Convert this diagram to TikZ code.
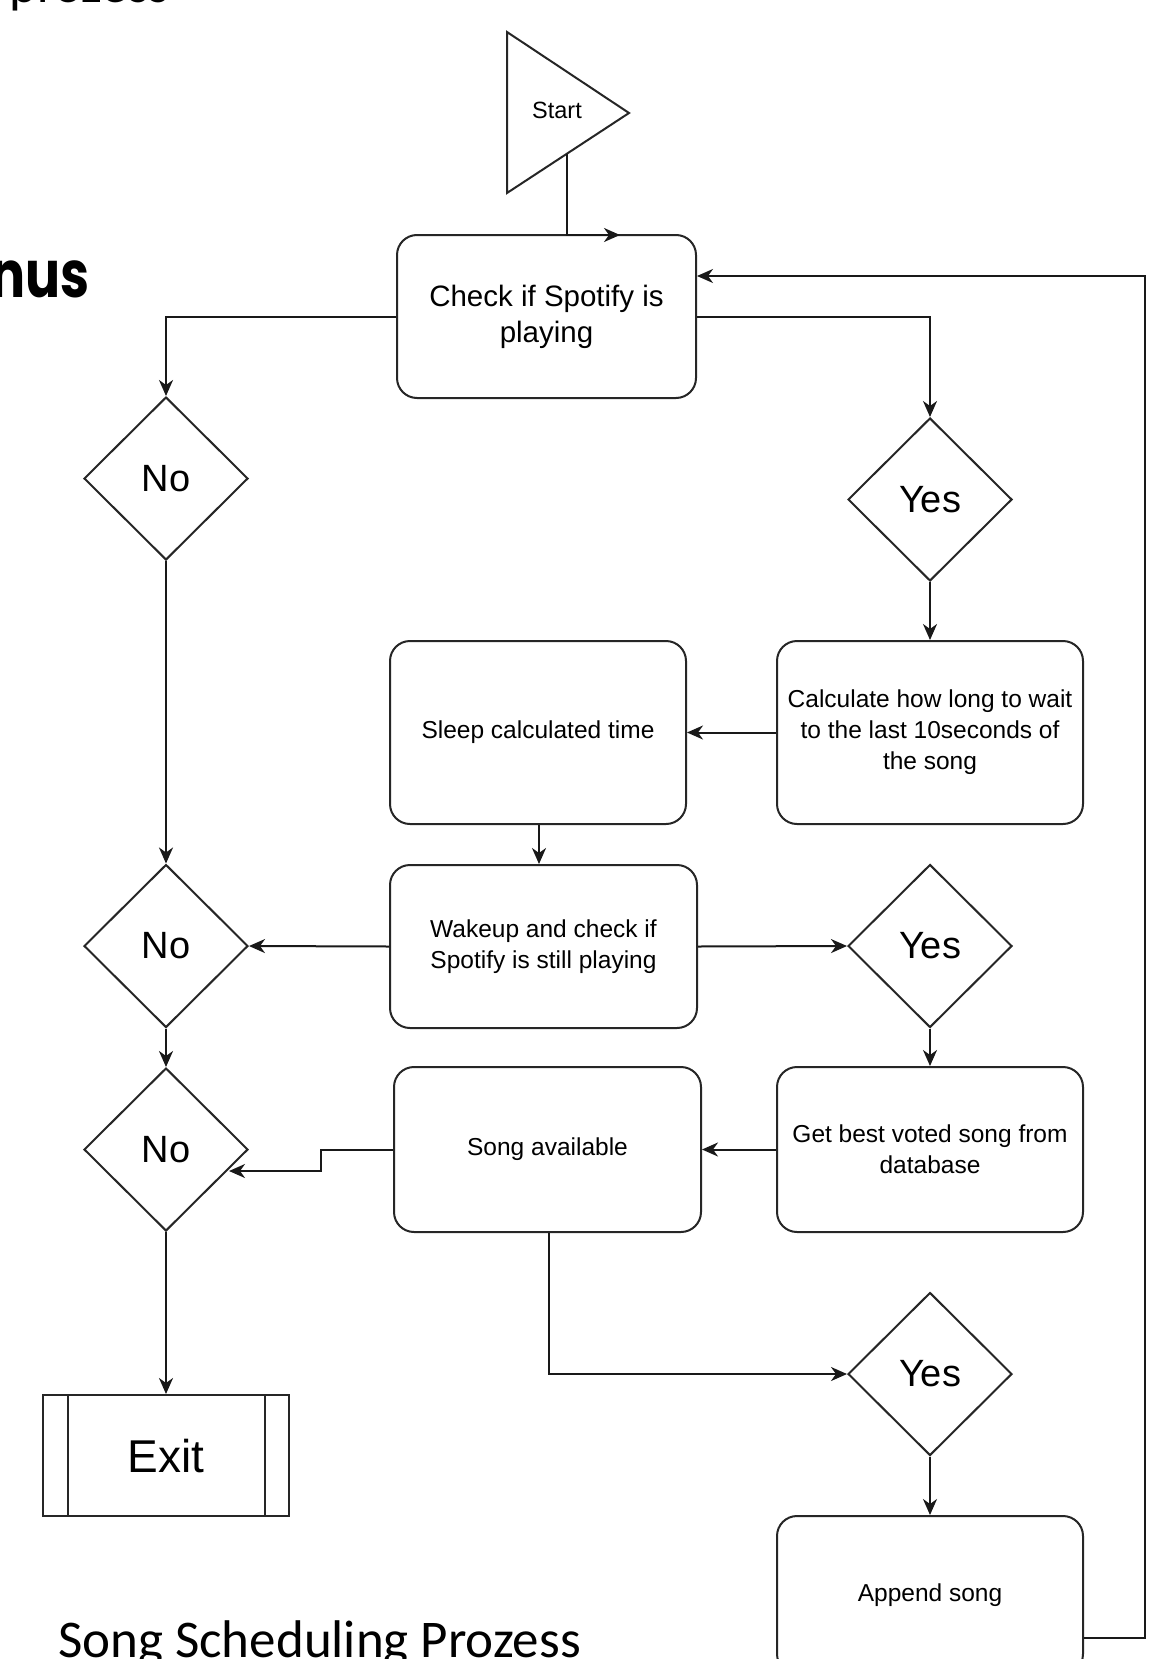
\documentclass[tikz,border=0pt]{standalone}
\usepackage{fontspec}
\setmainfont{Liberation Sans}
\newfontfamily\capfont{Carlito}
\newfontfamily\headfont{Poppins}
\usetikzlibrary{shapes.geometric,arrows.meta,calc}
\begin{document}
\begin{tikzpicture}[x=1pt,y=-1pt,
  every node/.style={inner sep=0pt},
  box/.style={draw=black!85, line width=2pt, rounded corners=20pt, align=center, fill=white},
  dia/.style={draw=black!85, line width=2pt, diamond, minimum width=164pt, minimum height=163pt, fill=white, font=\fontsize{38}{44}\selectfont},
  arr/.style={draw=black!90, line width=2pt, -{Stealth[length=16pt,width=14pt,inset=5pt]}},
  ln/.style={draw=black!90, line width=2pt},
  small/.style={font=\fontsize{24.5}{31}\selectfont}
]
\useasboundingbox (0,0) rectangle (1164,1659);

% start triangle
\draw[ln, line join=miter, draw=black!85] (507,32) -- (629,113) -- (507,193) -- cycle;
\node[font=\fontsize{23.5}{28}\selectfont] (start) at (557,110) {Start};
\coordinate (startout) at (567,153.5);
\coordinate (chkin) at (620,235);

\node[box, minimum width=299pt, minimum height=163pt, font=\fontsize{29.5}{36}\selectfont] (check) at (546.5,316.5) {Check if Spotify is\\playing};
\node[dia] (no1) at (166,478.5) {No};
\node[dia] (yes1) at (930,499.5) {Yes};
\node[box, small, minimum width=306pt, minimum height=183pt] (calc) at (930,732.5) {Calculate how long to wait\\to the last 10seconds of\\the song};
\node[box, small, minimum width=296pt, minimum height=183pt] (sleep) at (538,732.5) {Sleep calculated time};
\node[box, small, minimum width=307pt, minimum height=163pt] (wake) at (543.5,946.5) {Wakeup and check if\\Spotify is still playing};
\node[dia] (no2) at (166,946) {No};
\node[dia] (yes2) at (930,946) {Yes};
\node[box, small, minimum width=306pt, minimum height=165pt] (get) at (930,1149.5) {Get best voted song from\\database};
\node[box, small, minimum width=307pt, minimum height=165pt] (avail) at (547.5,1149.5) {Song available};
\node[dia] (no3) at (166,1149.5) {No};
\node[dia] (yes3) at (930,1374) {Yes};
\node[box, small, minimum width=306pt, minimum height=158pt] (append) at (930,1595) {Append song};
\node[draw=black!85, line width=2pt, minimum width=246pt, minimum height=121pt, font=\fontsize{46}{52}\selectfont] (exit) at (166,1455.5) {Exit};
\draw[ln, draw=black!85] ([xshift=26pt]exit.north west) -- ([xshift=26pt]exit.south west);
\draw[ln, draw=black!85] ([xshift=-25pt]exit.north east) -- ([xshift=-25pt]exit.south east);

% connectors
\draw[arr] (startout) |- (chkin);
\draw[arr] (check.west) -| (no1.north);
\draw[arr] (check.east) -| (yes1.north);
\draw[arr] (yes1.south) -- (calc.north);
\draw[arr] (calc.west) -- (sleep.east);
\draw[arr] ([xshift=1pt]sleep.south) -- ([xshift=1pt]sleep.south |- wake.north);
\draw[arr] (no1.south) -- (no2.north);
\draw[arr] (wake.west) -- (no2.east);
\draw[arr] (wake.east) -- (yes2.west);
\draw[arr] (no2.south) -- (no3.north);
\draw[arr] (yes2.south) -- (get.north);
\draw[arr] (get.west) -- (avail.east);
\coordinate (no3in) at (229,1171);
\draw[arr] (avail.west) -- ++(-72,0) |- (no3in);
\draw[arr] ([xshift=1.5pt]avail.south) |- (yes3.west);
\draw[arr] (yes3.south) -- (append.north);
\draw[arr] ($(append.east)+(0,43)$) -- ++(61,0) |- ($(check.east)+(0,-40.5)$);
\draw[arr] (no3.south) -- (exit.north);

% outside texts
\node[font=\capfont\fontsize{53}{60}\selectfont, anchor=base west] (caption) at (58,1657) {Song Scheduling Prozess};
\node[font=\capfont\fontsize{53}{60}\selectfont, anchor=base west] (toptext) at (9,3) {prozess};
\node[font=\headfont\bfseries\fontsize{65}{70}\selectfont, anchor=base east] (nus) at (90,297) {\scalebox{0.8}[1]{nus}};
\end{tikzpicture}
\end{document}
